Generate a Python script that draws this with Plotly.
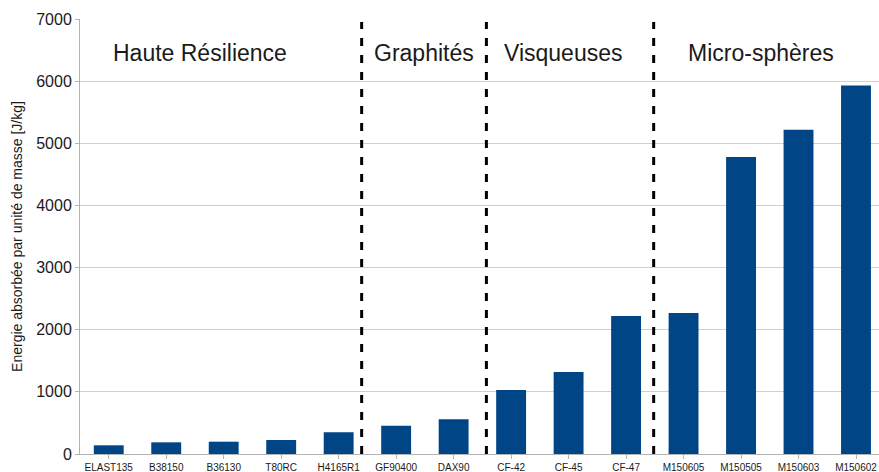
import plotly.graph_objects as go

categories = ["ELAST135", "B38150", "B36130", "T80RC", "H4165R1",
              "GF90400", "DAX90",
              "CF-42", "CF-45", "CF-47",
              "M150605", "M150505", "M150603", "M150602"]
energy = [140, 188, 198, 225, 350, 455, 560, 1030, 1320, 2220, 2270, 4778, 5217, 5930]

group_labels = ["Haute Résilience", "Graphités", "Visqueuses", "Micro-sphères"]
group_label_x = [1.58, 5.48, 7.91, 11.34]
separator_x = [4.40, 6.57, 9.48]

y_title = "Energie absorbée par unité de masse [J/kg]"
font_family = "Liberation Sans, Arial, sans-serif"

fig = go.Figure()
fig.add_trace(go.Bar(
    x=list(range(len(categories))),
    y=energy,
    marker=dict(color="#004586", line=dict(width=0)),
    showlegend=False,
))

for sx in separator_x:
    fig.add_shape(type="line", xref="x", yref="y", x0=sx, x1=sx, y0=0, y1=6950,
                  line=dict(color="black", width=3, dash="8px,9px"))

for lbl, lx in zip(group_labels, group_label_x):
    fig.add_annotation(x=lx, y=6453, xref="x", yref="y", text=lbl, showarrow=False,
                       font=dict(family=font_family, size=23, color="#1a1a1a"))

fig.update_layout(
    width=879, height=472,
    margin=dict(l=80, r=0, t=19, b=18),
    plot_bgcolor="white", paper_bgcolor="white",
    bargap=0.48,
    font=dict(family=font_family, color="#1a1a1a"),
    xaxis=dict(
        tickmode="array", tickvals=list(range(len(categories))), ticktext=categories,
        range=[-0.5, 13.4],
        tickfont=dict(size=10, color="#1a1a1a"),
        showline=True, linecolor="#b3b3b3", linewidth=1,
        ticks="outside", ticklen=4, tickcolor="#b3b3b3",
        showgrid=False, zeroline=False,
        automargin=False,
    ),
    yaxis=dict(
        range=[0, 7000], dtick=1000,
        tickfont=dict(size=16, color="#1a1a1a"),
        showline=True, linecolor="#b3b3b3", linewidth=1,
        ticks="outside", ticklen=4, tickcolor="#b3b3b3",
        showgrid=True, gridcolor="#cfcfcf", gridwidth=1,
        zeroline=False, automargin=False,
        title=dict(text=y_title, font=dict(size=14, color="#1a1a1a"), standoff=10),
    ),
)

fig.write_html(
    "out.html",
    config={"displayModeBar": False},
    post_script="document.body.style.margin='0';document.body.style.overflow='hidden';",
)
